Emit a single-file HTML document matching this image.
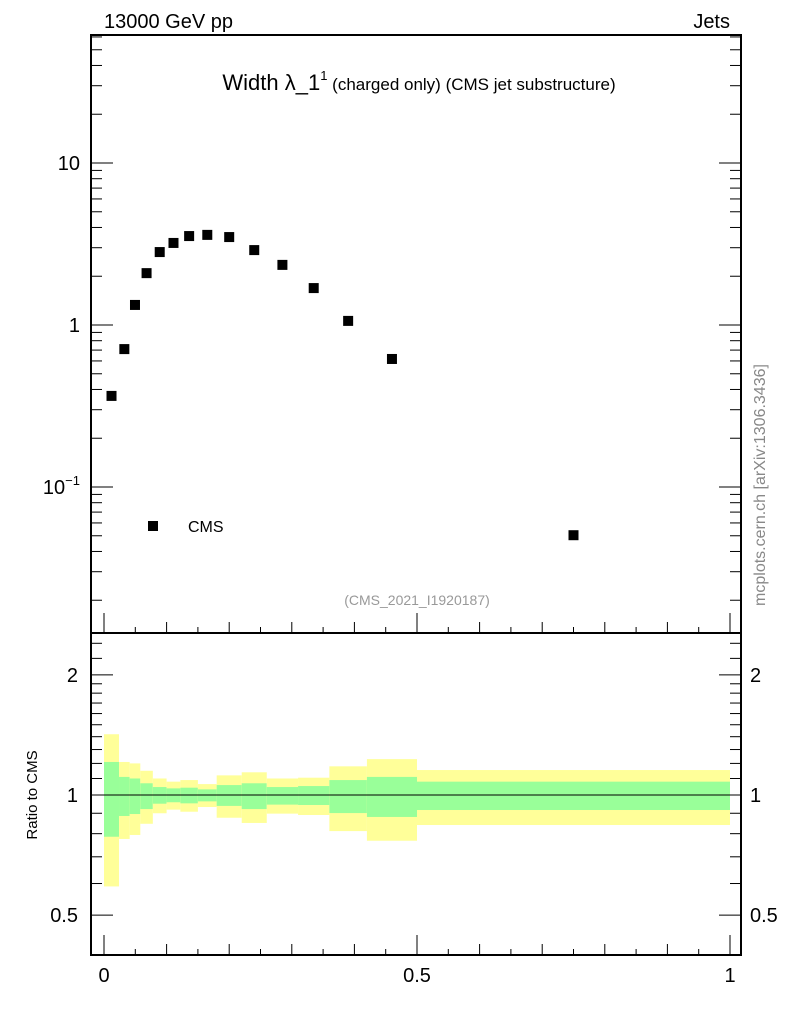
<!DOCTYPE html>
<html><head><meta charset="utf-8"><style>
html,body{margin:0;padding:0;background:#fff;}
svg{display:block;font-family:"Liberation Sans",sans-serif;}
</style></head><body>
<svg id="chart" width="786" height="1024" viewBox="0 0 786 1024" xmlns="http://www.w3.org/2000/svg">
<g id="bands"></g>
<g id="marks"></g>
<g id="axes"></g>
<text x="104" y="28" font-size="20">13000 GeV pp</text>
<text x="730" y="28" font-size="20" text-anchor="end">Jets</text>
<text x="419" y="90" text-anchor="middle"><tspan font-size="22">Width λ_1</tspan><tspan font-size="13" dy="-10">1</tspan><tspan font-size="17" dy="10"> (charged only) (CMS jet substructure)</tspan></text>
<text x="417" y="605" font-size="14" fill="#999" text-anchor="middle">(CMS_2021_I1920187)</text>
<text transform="translate(765,485) rotate(-90)" font-size="16" fill="#888" text-anchor="middle">mcplots.cern.ch [arXiv:1306.3436]</text>
<text transform="translate(37,795) rotate(-90)" font-size="15" text-anchor="middle">Ratio to CMS</text>
<rect x="148" y="521" width="10" height="10" fill="#000"/>
<text x="188" y="532" font-size="16">CMS</text>
</svg>
<script>
const edges=[0,0.024,0.041,0.058,0.078,0.1,0.122,0.15,0.18,0.22,0.26,0.31,0.36,0.42,0.5,1];
const values=[0.365,0.71,1.33,2.09,2.82,3.21,3.54,3.6,3.49,2.9,2.35,1.69,1.06,0.617,0.0504];
const greenUp=[1.21,1.11,1.10,1.07,1.047,1.039,1.043,1.033,1.059,1.07,1.047,1.053,1.09,1.11,1.08];
const greenDn=[0.786,0.886,0.896,0.922,0.951,0.959,0.953,0.964,0.939,0.922,0.946,0.944,0.901,0.881,0.917];
const yellowUp=[1.42,1.21,1.20,1.15,1.10,1.08,1.09,1.065,1.12,1.14,1.10,1.105,1.18,1.23,1.155];
const yellowDn=[0.59,0.776,0.794,0.847,0.90,0.919,0.908,0.933,0.877,0.851,0.898,0.891,0.812,0.768,0.841];
const NS="http://www.w3.org/2000/svg";
const L=91,R=741,T=35,S=633,B=955;
const X=v=>104+v*626;
const Y=v=>325-Math.log10(v)*162;
const YR=v=>795-Math.log10(v)*399;
function mk(p,tag,at){const e=document.createElementNS(NS,tag);for(const k in at)e.setAttribute(k,at[k]);p.appendChild(e);return e;}
const bands=document.getElementById('bands'),marks=document.getElementById('marks'),axes=document.getElementById('axes');
for(let i=0;i<values.length;i++){
 const x0=X(edges[i]),x1=X(edges[i+1]);
 const y=mk(bands,'rect',{x:x0,y:YR(yellowUp[i]),width:x1-x0,height:YR(yellowDn[i])-YR(yellowUp[i]),fill:'#ffff99'});
 
 
 const g=mk(bands,'rect',{x:x0,y:YR(greenUp[i]),width:x1-x0,height:YR(greenDn[i])-YR(greenUp[i]),fill:'#99ff99'});
 
 
 const xc=X((edges[i]+edges[i+1])/2);
 const m=mk(marks,'rect',{x:xc-5,y:Y(values[i])-5,width:10,height:10,fill:'#000'});
 
 
}
mk(bands,'line',{x1:L,x2:R,y1:YR(1),y2:YR(1),stroke:'#000','stroke-width':1});
const f1=mk(axes,'rect',{x:L,y:T,width:R-L,height:S-T,fill:'none',stroke:'#000','stroke-width':2});


const f2=mk(axes,'rect',{x:L,y:S,width:R-L,height:B-S,fill:'none',stroke:'#000','stroke-width':2});


for(let k=0;k<=20;k++){const v=k*0.05,x=X(v);const len=(k%10==0)?20:(k%2==0?11:6);
 mk(axes,'line',{x1:x,x2:x,y1:S,y2:S-len,stroke:'#000'});
 mk(axes,'line',{x1:x,x2:x,y1:B,y2:B-len,stroke:'#000'});}
const xt=[0,0.5,1],xl=['0','0.5','1'];
xt.forEach((v,i)=>{const t=mk(axes,'text',{x:X(v),y:982,'font-size':20,'text-anchor':'middle'});t.textContent=xl[i];
 
 });
for(let d=-2;d<=1;d++)for(let m=1;m<=9;m++){const v=m*Math.pow(10,d),y=Y(v);if(y<T||y>S)continue;const len=m==1?22:11;
 mk(axes,'line',{x1:L,x2:L+len,y1:y,y2:y,stroke:'#000'});mk(axes,'line',{x1:R,x2:R-len,y1:y,y2:y,stroke:'#000'});}
const yt=[10,1,0.1];
yt.forEach((v,i)=>{const t=mk(axes,'text',{x:80,y:Y(v)+7,'font-size':20,'text-anchor':'end'});
 if(i<2)t.textContent=String(v);else{t.textContent='10';const s=mk(t,'tspan',{dy:-9,'font-size':13});s.textContent='−1';}
 
 });
const rt=[0.5,0.6,0.7,0.8,0.9,1,1.1,1.2,1.3,1.4,1.5,1.6,1.7,1.8,1.9,2,2.2,2.4];
rt.forEach(v=>{const y=YR(v);const len=(v==0.5||v==1||v==2)?22:11;
 mk(axes,'line',{x1:L,x2:L+len,y1:y,y2:y,stroke:'#000'});mk(axes,'line',{x1:R,x2:R-len,y1:y,y2:y,stroke:'#000'});});
const rl=[2,1,0.5];
rl.forEach(v=>{const a=mk(axes,'text',{x:78,y:YR(v)+7,'font-size':20,'text-anchor':'end'});a.textContent=String(v);
 
 
 const b=mk(axes,'text',{x:750,y:YR(v)+7,'font-size':20});b.textContent=String(v);
 
 });
</script>
</body></html>
